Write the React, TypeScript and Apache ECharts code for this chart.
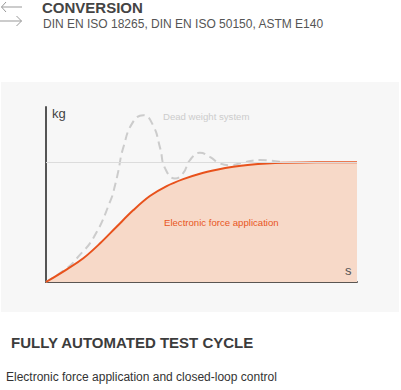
import React, { useEffect, useRef } from "react";
import * as echarts from "echarts";

// Electronic force application curve (x in % of time span, y in % of target load)
const forceX = [0, 6.7, 12, 17.4, 22.7, 28.1, 33.4, 38.8, 44.1, 49.5, 54.9, 60.2, 65.6, 71, 76.3, 87, 100];
const forceY = [0, 10.6, 19.8, 32.3, 46.1, 60, 71.7, 80, 85.8, 90.3, 93.6, 96.1, 97.8, 98.9, 99.5, 100, 100];

// Dead weight system curve (oscillating)
const deadX = [0, 6.8, 10, 15.4, 20.8, 22.2, 23.2, 24.8, 28, 31.3, 34.4, 36.7, 38.3, 41.5, 44.1, 46.3, 49.5, 52.7, 56, 59.2, 64, 68.8, 76.2];
const deadY = [0, 11.7, 20, 37.5, 68.3, 80.8, 91.9, 111.7, 133.6, 139.2, 130.8, 111.7, 94.8, 86.4, 90.8, 101.7, 107.8, 104.4, 98.9, 97.5, 100, 101.7, 100];

const targetLevel = 100;

const headerTitle = "CONVERSION";
const headerSub = "DIN EN ISO 18265, DIN EN ISO 50150, ASTM E140";
const yName = "kg";
const xName = "s";
const deadLabel = "Dead weight system";
const forceLabel = "Electronic force application";
const footTitle = "FULLY AUTOMATED TEST CYCLE";
const footSub = "Electronic force application and closed-loop control";

const FONT = "'Liberation Sans', Arial, Helvetica, sans-serif";

export default function App() {
  const ref = useRef<HTMLDivElement>(null);
  useEffect(() => {
    if (!ref.current) return;
    const chart = echarts.init(ref.current, null, { renderer: "svg" });
    const force = forceX.map((x, i) => [x, forceY[i]]);
    const dead = deadX.map((x, i) => [x, deadY[i]]);
    chart.setOption({
      animation: false,
      backgroundColor: "#ffffff",
      grid: { left: 46, right: 44, top: 107, bottom: 108 },
      xAxis: {
        type: "value",
        min: 0,
        max: 100,
        axisLine: { show: true, lineStyle: { color: "#5a5552", width: 2 } },
        axisTick: { show: false },
        axisLabel: { show: false },
        splitLine: { show: false },
      },
      yAxis: {
        type: "value",
        min: 0,
        max: 146,
        axisLine: { show: true, onZero: false, lineStyle: { color: "#555555", width: 2 } },
        axisTick: { show: false },
        axisLabel: { show: false },
        splitLine: { show: false },
      },
      graphic: [
        { type: "rect", z: -10, shape: { x: 1, y: 82, width: 398, height: 230 }, style: { fill: "#f7f7f7" } },
        // icon arrows
        { type: "polyline", shape: { points: [[6, 2], [1.5, 7], [6, 12]] }, style: { stroke: "#999", lineWidth: 1, fill: null } },
        { type: "line", shape: { x1: 1.5, y1: 7, x2: 22, y2: 7 }, style: { stroke: "#999", lineWidth: 1 } },
        { type: "polyline", shape: { points: [[16.5, 16], [21.5, 21], [16.5, 26]] }, style: { stroke: "#999", lineWidth: 1, fill: null } },
        { type: "line", shape: { x1: 0, y1: 21, x2: 21.5, y2: 21 }, style: { stroke: "#999", lineWidth: 1 } },
        { type: "text", x: 42, y: 7, style: { text: headerTitle, font: `bold 15px ${FONT}`, fill: "#444444", verticalAlign: "middle" } },
        { type: "text", x: 43, y: 24, style: { text: headerSub, font: `12px ${FONT}`, fill: "#555555", verticalAlign: "middle" } },
        { type: "text", z: 20, x: 52, y: 113, style: { text: yName, font: `13px ${FONT}`, fill: "#444444", verticalAlign: "middle" } },
        { type: "text", z: 20, x: 345, y: 270, style: { text: xName, font: `13px ${FONT}`, fill: "#555555", verticalAlign: "middle" } },
        { type: "text", z: 20, x: 163, y: 116, style: { text: deadLabel, font: `9.6px ${FONT}`, fill: "#cccccc", verticalAlign: "middle" } },
        { type: "text", z: 20, x: 164, y: 222, style: { text: forceLabel, font: `9.6px ${FONT}`, fill: "#e8561e", verticalAlign: "middle" } },
        { type: "text", x: 11, y: 342, style: { text: footTitle, font: `bold 15px ${FONT}`, fill: "#3c3c3c", verticalAlign: "middle" } },
        { type: "text", x: 6, y: 377, style: { text: footSub, font: `12px ${FONT}`, fill: "#333333", verticalAlign: "middle" } },
      ],
      series: [
        {
          type: "line",
          data: dead,
          smooth: 0.5,
          symbol: "none",
          z: 2,
          lineStyle: { color: "#cccccc", width: 2, type: [8, 5] },
          markLine: {
            silent: true,
            symbol: "none",
            label: { show: false },
            lineStyle: { color: "#dcdcdc", width: 1, type: "solid" },
            data: [{ yAxis: targetLevel }],
          },
        },
        {
          type: "line",
          data: force,
          smooth: 0.35,
          symbol: "none",
          z: 3,
          lineStyle: { color: "#e8521c", width: 2 },
          areaStyle: { color: "#f7d9c8", opacity: 1 },
        },
      ],
    });
    return () => chart.dispose();
  }, []);
  return <div ref={ref} style={{ position: "absolute", left: 0, top: 0, width: 401, height: 390 }} />;
}
